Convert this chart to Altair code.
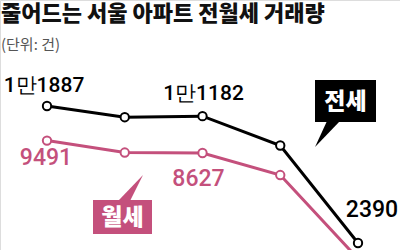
import altair as alt
import pandas as pd

periods = ["1", "2", "3", "4", "5"]
jeonse = [11887, 11110, 11182, 9150, 2390]
wolse = [9491, 8660, 8627, 7100, 1300]

BLACK = "#000000"
PINK = "#c4507c"

rows = []
for p, v in zip(periods, jeonse):
    rows.append({"period": p, "value": v, "series": "전세"})
for p, v in zip(periods, wolse):
    rows.append({"period": p, "value": v, "series": "월세"})
df = pd.DataFrame(rows)


def fmt(v):
    return f"{v // 10000}만{v % 10000}" if v >= 10000 else f"{v}"


df["label"] = df["value"].apply(fmt)

xs = alt.X("period:O", sort=periods, scale=alt.Scale(type="point", range=[47, 358], padding=0), axis=None)
ys = alt.Y("value:Q", scale=alt.Scale(domain=[2390, 11887], range=[243, 106], zero=False, nice=False), axis=None)

layers = []
for name, color in [("월세", PINK), ("전세", BLACK)]:
    sub = alt.Chart(df).transform_filter(alt.datum.series == name)
    layers.append(sub.mark_line(color=color, strokeWidth=3).encode(x=xs, y=ys))
    layers.append(sub.mark_point(shape="circle", filled=True, fill="white", stroke=color,
                                 strokeWidth=2, size=70, opacity=1).encode(x=xs, y=ys))

# value labels (series, period index, dx, dy, size)
label_specs = [
    ("전세", 0, -3, -14, BLACK, 21),
    ("전세", 2, 1, -16, BLACK, 21),
    ("전세", 4, 14, -26, BLACK, 23),
    ("월세", 0, -1, 24, PINK, 23),
    ("월세", 2, -4, 33, PINK, 23),
]
for name, idx, dx, dy, color, fs in label_specs:
    layers.append(
        alt.Chart(df).transform_filter(
            (alt.datum.series == name) & (alt.datum.period == periods[idx])
        ).mark_text(font="Roboto", fontWeight=500, fontSize=fs, color=color, dx=dx, dy=dy,
                    baseline="alphabetic", align="center")
        .encode(x=xs, y=ys, text="label:N")
    )

# callouts
def callout(x1, x2, y1, y2, color, text, tail_x, tail_y, tail_shape):
    base = alt.Chart(pd.DataFrame({"t": [text]}))
    box = base.mark_rect(color=color).encode(
        x=alt.value(x1), x2=alt.value(x2), y=alt.value(y1), y2=alt.value(y2))
    tail = base.mark_point(shape=tail_shape, filled=True, fill=color, strokeWidth=0,
                           size=676, opacity=1).encode(x=alt.value(tail_x), y=alt.value(tail_y))
    txt = base.mark_text(font="Noto Sans CJK KR", fontWeight=900, fontSize=23, color="white",
                         align="center", baseline="middle").encode(
        x=alt.value((x1 + x2) / 2), y=alt.value((y1 + y2) / 2 + 1), text="t:N")
    return [box, tail, txt]

layers += callout(315, 376, 80, 122, BLACK, "전세", 327, 134, "M0,-1L1,-1L-0.92,1Z")
layers += callout(93, 152, 200, 234, PINK, "월세", 130, 188, "M-0.92,1L0,1L1,-1Z")

title = alt.Chart(pd.DataFrame({"t": ["줄어드는 서울 아파트 전월세 거래량"]})).mark_text(
    font="Noto Sans CJK KR", fontWeight=900, fontSize=22, color="#111111",
    align="left", baseline="middle").encode(
    x=alt.value(1), y=alt.value(14), text="t:N")
subtitle = alt.Chart(pd.DataFrame({"t": ["(단위: 건)"]})).mark_text(
    font="Noto Sans CJK KR", fontSize=15, color="#555555",
    align="left", baseline="alphabetic").encode(
    x=alt.value(1), y=alt.value(50), text="t:N")

chart = alt.layer(title, subtitle, *layers).properties(
    width=400, height=250, padding=0, autosize=alt.AutoSizeParams(type="none")
).configure_view(strokeWidth=0).configure(background="white")

chart.save("out.html", embed_options={"renderer": "svg", "actions": False})
